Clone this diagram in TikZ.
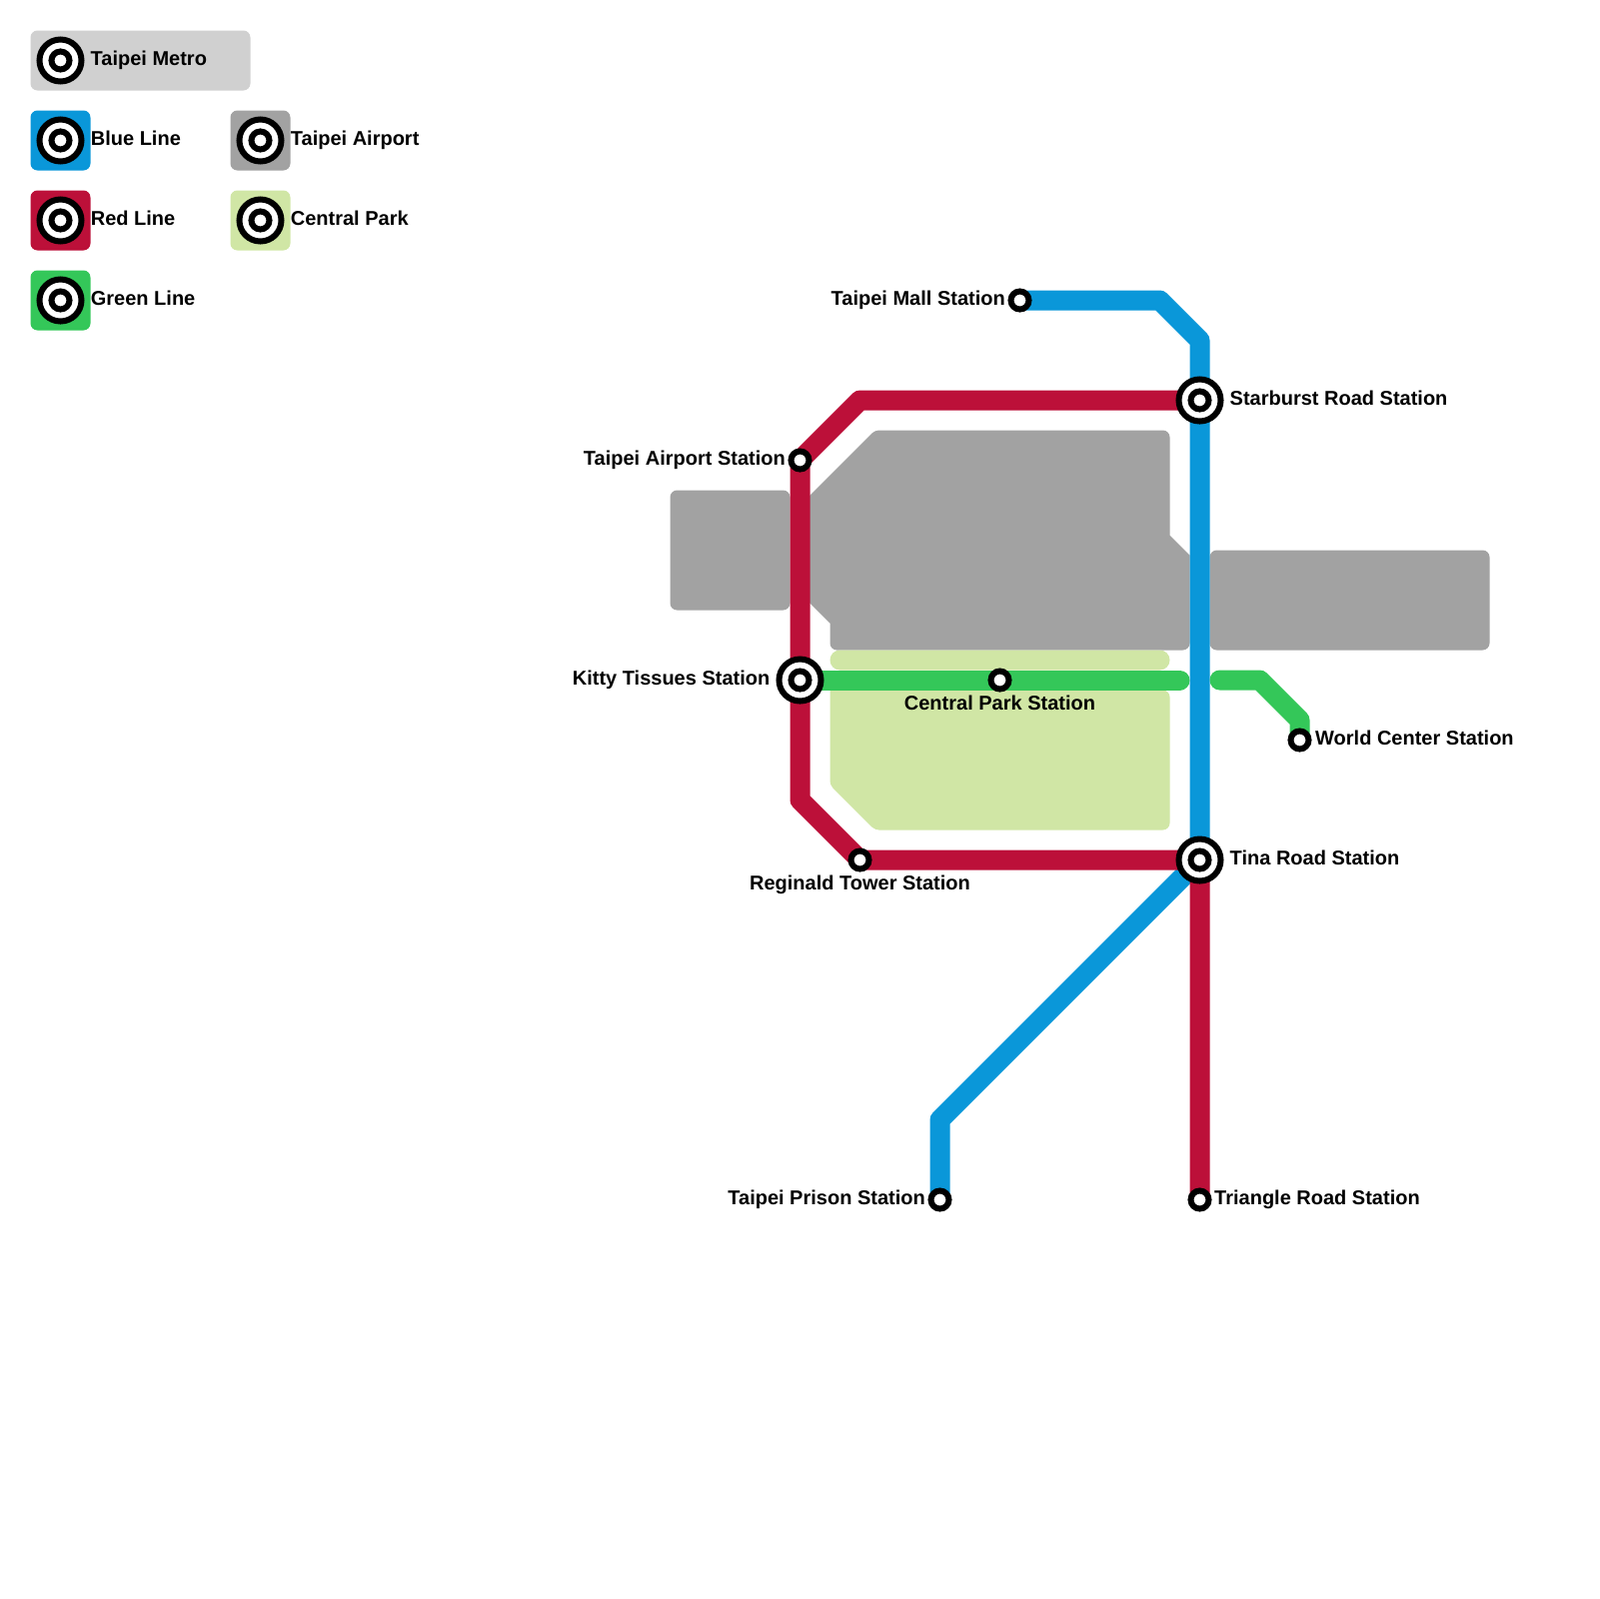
\documentclass[tikz,border=0pt]{standalone}
\usepackage{fontspec}
\setmainfont{Liberation Sans}
\usetikzlibrary{positioning,backgrounds}
\definecolor{lineblue}{HTML}{0A97D9}
\definecolor{linered}{HTML}{BC1039}
\definecolor{linegreen}{HTML}{34C759}
\definecolor{airportgrey}{HTML}{A2A2A2}
\definecolor{parkgreen}{HTML}{D0E6A5}
\definecolor{metrogrey}{HTML}{D0D0D0}
\begin{document}
\begin{tikzpicture}[
  x=0.1mm, y=-0.1mm,
  font=\bfseries\fontsize{5.69}{7}\selectfont,
  node distance=0.2mm,
  station/.style={draw=black, fill=white, circle, line width=0.6mm, minimum size=1.8mm, inner sep=0pt},
  hub/.style={draw=black, fill=white, circle, line width=0.6mm, minimum size=4.2mm, inner sep=0pt},
  keybox/.style={rounded corners=0.7mm, minimum size=6mm, inner sep=0pt},
  stationname/.style={inner sep=0pt, text height=1.45mm, text depth=0.45mm},
  metroline/.style={line width=2mm, line join=round},
  area/.style={rounded corners=0.7mm}
]
  \useasboundingbox (-0.5,-0.5) rectangle (1599.5,1599.5);

  % legend
  \node[keybox, fill=metrogrey, minimum width=22mm] (keymetro) at (140,60) {};
  \node[hub] (ringmetro) at (60,60) {};
  \node[station] at (ringmetro) {};
  \node[stationname, right=0.55mm of ringmetro] (textmetro) {Taipei Metro};
  \foreach \name/\px/\py/\tint/\txt in {blue/60/140/lineblue/Blue Line, red/60/220/linered/Red Line, green/60/300/linegreen/Green Line, airport/260/140/airportgrey/Taipei Airport, park/260/220/parkgreen/Central Park} {
    \node[keybox, fill=\tint] (key\name) at (\px,\py) {};
    \node[hub] (ring\name) at (\px,\py) {};
    \node[station] at (ring\name) {};
    \node[stationname, right=-0.1mm of key\name] (text\name) {\txt};
  }

  % stations
  \node[hub] (starburst) at (1200,400) {};
  \node[station] at (starburst) {};
  \node[hub] (tina) at (1200,860) {};
  \node[station] at (tina) {};
  \node[hub] (kitty) at (800,680) {};
  \node[station] at (kitty) {};
  \node[station] (mall) at (1020,300) {};
  \node[station] (airport) at (800,460) {};
  \node[station] (central) at (1000,680) {};
  \node[station] (world) at (1300,740) {};
  \node[station] (reginald) at (860,860) {};
  \node[station] (prison) at (940,1200) {};
  \node[station] (triangle) at (1200,1200) {};

  \node[stationname, left=of mall] (mallname) {Taipei Mall Station};
  \node[stationname, right=0.55mm of starburst] (starburstname) {Starburst Road Station};
  \node[stationname, left=of airport] (airportname) {Taipei Airport Station};
  \node[stationname, left=0.55mm of kitty] (kittyname) {Kitty Tissues Station};
  \node[stationname, below=0.25mm of central] (centralname) {Central Park Station};
  \node[stationname, right=0.3mm of world] (worldname) {World Center Station};
  \node[stationname, right=0.55mm of tina] (tinaname) {Tina Road Station};
  \node[stationname, below=0.25mm of reginald] (reginaldname) {Reginald Tower Station};
  \node[stationname, left=of prison] (prisonname) {Taipei Prison Station};
  \node[stationname, right=of triangle] (trianglename) {Triangle Road Station};

  % bends and loose ends
  \coordinate (bluetop) at (1160,300);
  \coordinate (blueturn) at (1200,340);
  \coordinate (bluefoot) at (940,1120);
  \coordinate (redtop) at (860,400);
  \coordinate (redfoot) at (800,800);
  \coordinate (greenstop) at (1180,680);
  \coordinate (greenrestart) at (1220,680);
  \coordinate (greentop) at (1260,680);
  \coordinate (greenturn) at (1300,720);

  \begin{scope}[on background layer]
    \fill[area, airportgrey] (670,490) rectangle (790,610);
    \fill[area, airportgrey] (1210,550) rectangle (1490,650);
    \fill[airportgrey, rounded corners=0.4mm] (800,505) -- (875,430) [rounded corners=0.7mm] -- (1170,430) [sharp corners] -- (1170,535) -- (1190,555) [rounded corners=0.7mm] -- (1190,650) -- (830,650) [sharp corners] -- (830,623) -- (800,593) -- cycle;
    \fill[rounded corners=1mm, parkgreen] (830,650) rectangle (1170,670);
    \fill[area, parkgreen] (830,690) -- (1170,690) -- (1170,830) [rounded corners=0.4mm] -- (875,830) -- (830,785) [sharp corners] -- cycle;

    \draw[metroline, lineblue] (mall.center) -- (bluetop) -- (blueturn) -- (tina.center) -- (bluefoot) -- (prison.center);
    \draw[metroline, linered] (starburst.center) -- (redtop) -- (airport.center) -- (redfoot) -- (reginald.center) -- (tina.center) -- (triangle.center);
    \draw[metroline, linegreen, line cap=round] (kitty.center) -- (greenstop);
    \draw[metroline, linegreen, line cap=round] (greenrestart) -- (greentop) -- (greenturn) -- (world.center);
  \end{scope}
\end{tikzpicture}
\end{document}
